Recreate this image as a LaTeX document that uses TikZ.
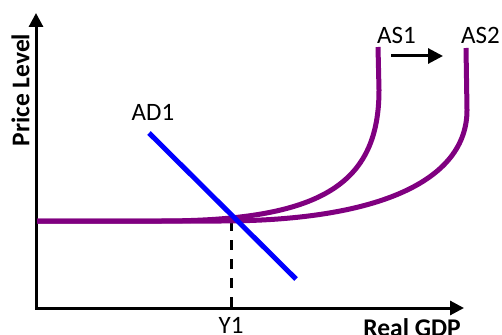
\documentclass[tikz,border=0pt]{standalone}
\usepackage{fontspec}
\setmainfont{Carlito}
\usetikzlibrary{arrows.meta}
\definecolor{aspurple}{RGB}{128,0,128}
\definecolor{adblue}{RGB}{0,0,255}
\tikzset{
  axisline/.style={line width=3pt, black, line join=miter},
  ascurve/.style={line width=5pt, aspurple},
  adline/.style={line width=5pt, adblue},
  guide/.style={line width=3pt, black, dash pattern=on 10pt off 9pt},
  lbl/.style={inner sep=0pt, font=\fontsize{25}{30}\selectfont},
  axlbl/.style={inner sep=0pt, font=\fontsize{25.5}{30}\selectfont\bfseries},
  shiftarrow/.style={line width=3pt, -{Triangle[length=15pt,width=15pt]}}
}
\begin{document}
\begin{tikzpicture}[x=1pt,y=-1pt]
\useasboundingbox (0,0) rectangle (502,334);
% coordinates
\coordinate (ytip) at (36,13);
\coordinate (origin) at (36,308);
\coordinate (xtip) at (464,308);
\coordinate (eq) at (231,221);
\coordinate (y1foot) at (231,308);
\coordinate (adtop) at (149,133);
\coordinate (adbot) at (296,279);
\coordinate (shiftA) at (391,56);
\coordinate (shiftB) at (443,56);
% dashed guide
\draw[guide] (eq) -- (y1foot);
% axes
\draw[axisline, {Triangle[length=14pt,width=14pt]}-{Triangle[length=14pt,width=14pt]}] (ytip) -- (origin) -- (xtip);
% AS curves
\draw[ascurve] (37,221) -- (160,221) .. controls (320,221) and (379,185) .. (379,90) -- (378,47);
\draw[ascurve] (37,221) -- (220,221) .. controls (380,221) and (467,180) .. (467,110) -- (466,48);
% AD line
\draw[adline] (adtop) -- (adbot);
% shift arrow
\draw[shiftarrow] (shiftA) -- (shiftB);
% labels
\node[axlbl, rotate=90] (pl) at (20.5,90) {Price Level};
\node[axlbl, anchor=north] (gdp) at (412,318) {Real GDP};
\node[lbl] (ad1) at (153,112) {AD1};
\node[lbl] (as1) at (396.5,35) {AS1};
\node[lbl] (as2) at (480.5,35) {AS2};
\node[lbl, anchor=north] (y1) at (231,317) {Y1};
\end{tikzpicture}
\end{document}
